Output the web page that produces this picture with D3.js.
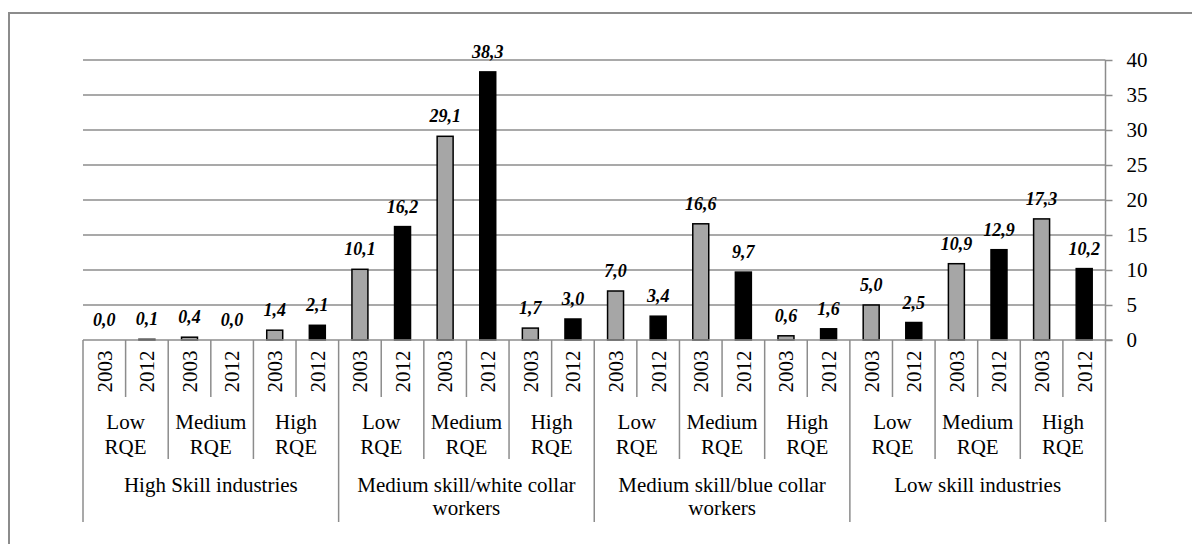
<!DOCTYPE html>
<html>
<head>
<meta charset="utf-8">
<script src="https://cdn.jsdelivr.net/npm/d3@7/dist/d3.min.js"></script>
<style>
  html, body { margin: 0; padding: 0; background: #fff; }
  svg { display: block; }
  #chart text { font-family: "Liberation Serif", "Times New Roman", serif !important; }
</style>
</head>
<body>
<svg id="chart" width="1192" height="544" font-family="Liberation Serif"></svg>
<script>
// Industry groups (outer level), RQE level (middle level) and years (inner level)
const skillGroups = [
  "High Skill industries",
  "Medium skill/white collar workers",
  "Medium skill/blue collar workers",
  "Low skill industries"
];
const rqeLevels = ["Low RQE", "Medium RQE", "High RQE"];
const years = ["2003", "2012"];

// Shares per skill group -> RQE level -> year (2003, 2012)
const shares = [
  0.0, 0.1,   0.4, 0.0,   1.4, 2.1,
  10.1, 16.2, 29.1, 38.3, 1.7, 3.0,
  7.0, 3.4,   16.6, 9.7,  0.6, 1.6,
  5.0, 2.5,   10.9, 12.9, 17.3, 10.2
];
const yTicks = [0, 5, 10, 15, 20, 25, 30, 35, 40];

const yearFill = { "2003": "#a6a6a6", "2012": "#000000" };
const FONT = "Liberation Serif";

// Flatten into one row per bar
const rows = [];
skillGroups.forEach((g, gi) => {
  rqeLevels.forEach((r, ri) => {
    years.forEach((yr, yi) => {
      const i = gi * rqeLevels.length * years.length + ri * years.length + yi;
      rows.push({ i, group: g, gi, rqe: r, ri, year: yr, yi, value: shares[i] });
    });
  });
});

const svg = d3.select("#chart");
const plotLeft = 83, plotRight = 1105.5, plotTop = 60, plotBase = 340;
const yearRowBottom = 397, rqeRowBottom = 459, groupRowBottom = 522;
const sepColor = "#8c8c8c";

// Outer frame
svg.append("rect")
  .attr("x", 9).attr("y", 13).attr("width", 1200).attr("height", 560)
  .attr("fill", "none").attr("stroke", "#8c8c8c").attr("stroke-width", 2);

const x = d3.scaleBand().domain(rows.map(d => d.i)).range([plotLeft, plotRight]).padding(0);
const y = d3.scaleLinear().domain([0, 40]).range([plotBase, plotTop]);
const barW = x.bandwidth() * 0.375;

// Horizontal gridlines
svg.append("g").selectAll("line").data(yTicks.filter(t => t > 0)).join("line")
  .attr("x1", plotLeft).attr("x2", plotRight)
  .attr("y1", d => y(d)).attr("y2", d => y(d))
  .attr("stroke", sepColor).attr("stroke-width", 1.5);

// Right value axis
const yAxis = svg.append("g")
  .attr("transform", `translate(${plotRight},0)`)
  .call(d3.axisRight(y).tickValues(yTicks).tickSize(7).tickPadding(14).tickFormat(d3.format("d")))
  .attr("font-family", FONT).attr("font-size", 21);
yAxis.select(".domain").remove();
yAxis.selectAll(".tick line").attr("stroke", sepColor).attr("stroke-width", 1.5);
yAxis.selectAll(".tick text").attr("fill", "#000").attr("font-family", FONT);

// Axis vertical line, extended down through the category table
svg.append("line")
  .attr("x1", plotRight).attr("x2", plotRight).attr("y1", plotTop).attr("y2", groupRowBottom)
  .attr("stroke", sepColor).attr("stroke-width", 1.5);

// Bars
svg.append("g").selectAll("rect").data(rows).join("rect")
  .attr("x", d => x(d.i) + (x.bandwidth() - barW) / 2)
  .attr("width", barW)
  .attr("y", d => y(d.value))
  .attr("height", d => y(0) - y(d.value))
  .attr("fill", d => yearFill[d.year])
  .attr("stroke", "#000").attr("stroke-width", 1.5);

// Value labels
svg.append("g").selectAll("text").data(rows).join("text")
  .attr("x", d => x(d.i) + x.bandwidth() / 2)
  .attr("y", d => y(d.value) - 14)
  .attr("text-anchor", "middle")
  .attr("font-family", FONT)
  .attr("font-size", 18).attr("font-weight", "bold").attr("font-style", "italic")
  .text(d => d3.format(".1f")(d.value).replace(".", ","));

// Category baseline
svg.append("line")
  .attr("x1", plotLeft).attr("x2", plotRight + 7).attr("y1", plotBase).attr("y2", plotBase)
  .attr("stroke", sepColor).attr("stroke-width", 1.5);

// Separators between category cells
const sep = svg.append("g");
rows.forEach(d => {
  const xe = x(d.i);
  let bottom = yearRowBottom;
  if (d.ri === 0 && d.yi === 0) bottom = groupRowBottom;
  else if (d.yi === 0) bottom = rqeRowBottom;
  sep.append("line")
    .attr("x1", xe).attr("x2", xe).attr("y1", plotBase).attr("y2", bottom)
    .attr("stroke", sepColor).attr("stroke-width", 1.5);
});

// Year labels (rotated)
svg.append("g").selectAll("text").data(rows).join("text")
  .attr("transform", d => `translate(${x(d.i) + x.bandwidth() / 2},${(plotBase + yearRowBottom) / 2 + 3}) rotate(-90)`)
  .attr("text-anchor", "middle").attr("dy", "0.35em")
  .attr("font-family", FONT).attr("font-size", 21)
  .text(d => d.year);

// Explicit line breaks for the category cells
const rqeLines = { "Low RQE": ["Low", "RQE"], "Medium RQE": ["Medium", "RQE"], "High RQE": ["High", "RQE"] };
const groupLines = {
  "High Skill industries": ["High Skill industries"],
  "Medium skill/white collar workers": ["Medium skill/white collar", "workers"],
  "Medium skill/blue collar workers": ["Medium skill/blue collar", "workers"],
  "Low skill industries": ["Low skill industries"]
};

function drawCellLabel(lines, x0, x1, firstBaseline, lineH) {
  const t = svg.append("text")
    .attr("text-anchor", "middle")
    .attr("font-family", FONT).attr("font-size", 21);
  lines.forEach((ln, k) => {
    t.append("tspan").attr("x", (x0 + x1) / 2).attr("y", firstBaseline + k * lineH).text(ln);
  });
}

// RQE level labels and skill group labels
skillGroups.forEach((g, gi) => {
  rqeLevels.forEach((r, ri) => {
    const i0 = gi * 6 + ri * 2;
    drawCellLabel(rqeLines[r], x(i0), x(i0 + 1) + x.bandwidth(), 429, 25);
  });
  const j0 = gi * 6;
  drawCellLabel(groupLines[g], x(j0), x(j0 + 5) + x.bandwidth(), 492, 23);
});
</script>
</body>
</html>
